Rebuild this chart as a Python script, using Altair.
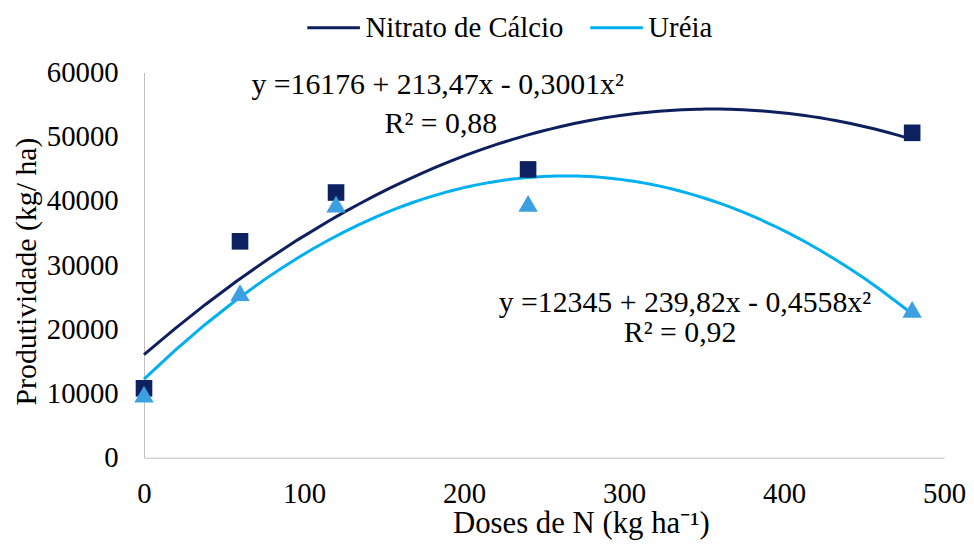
import altair as alt
import pandas as pd

# ---- data ----
doses = [0, 60, 120, 240, 480]
nitrato = [10800, 33700, 41300, 44900, 50600]
ureia = [9900, 25700, 39500, 39600, 23100]
series = ["Nitrato de Cálcio", "Uréia"]

x_ticks = [0, 100, 200, 300, 400, 500]
y_ticks = [0, 10000, 20000, 30000, 40000, 50000, 60000]

ann_text = ["y =16176 + 213,47x - 0,3001x²", "R² = 0,88",
            "y =12345 + 239,82x - 0,4558x²", "R² = 0,92"]
ann_x = [183.5, 185.5, 338, 335]
ann_y = [56600, 50560, 22730, 17940]

line_colors = ["#0E1F5E", "#00B0F0"]
point_colors = ["#0D2160", "#3C9FE2"]
point_shapes = ["square", "triangle-up"]
point_sizes = [280, 380]

FONT = "Liberation Serif"

df = pd.DataFrame({
    "dose": doses * 2,
    "prod": nitrato + ureia,
    "serie": [series[0]] * len(doses) + [series[1]] * len(doses),
})
ann = pd.DataFrame({"dose": ann_x, "prod": ann_y, "txt": ann_text})

x_enc = alt.X(
    "dose:Q",
    scale=alt.Scale(domain=[0, 500], nice=False, zero=False),
    axis=alt.Axis(
        values=x_ticks, grid=False, ticks=False, tickSize=0, labelFlush=False,
        domainColor="#BFBFBF", domainWidth=1,
        labelFont=FONT, labelFontSize=29, labelColor="black", labelPadding=22,
        title="Doses de N (kg ha⁻¹)", titleFont=FONT, titleFontSize=31,
        titleFontWeight="normal", titleColor="black",
        titleX=440, titleY=75, titleAlign="center", titleBaseline="alphabetic",
    ),
)
y_enc = alt.Y(
    "prod:Q",
    scale=alt.Scale(domain=[0, 60000], nice=False),
    axis=alt.Axis(
        values=y_ticks, format="d", grid=False, ticks=False, tickSize=0,
        domainColor="#BFBFBF", domainWidth=1,
        labelFont=FONT, labelFontSize=29, labelColor="black", labelPadding=26,
        title="Produtividade (kg/ ha)", titleFont=FONT, titleFontSize=30,
        titleFontWeight="normal", titleColor="black",
        titleAngle=270, titleX=-118, titleY=200, titleAlign="center",
        titleBaseline="middle",
    ),
)

base = alt.Chart(df)

lines = base.transform_regression(
    "dose", "prod", method="poly", order=2, groupby=["serie"], extent=[0, 480]
).mark_line(strokeWidth=3).encode(
    x=x_enc,
    y=y_enc,
    color=alt.Color(
        "serie:N",
        scale=alt.Scale(domain=series, range=line_colors),
        legend=alt.Legend(
            title=None, orient="none", direction="horizontal",
            legendX=163, legendY=-73, padding=0,
            symbolType="stroke", symbolStrokeWidth=3, symbolSize=2809,
            labelFont=FONT, labelFontSize=29, labelColor="black",
            labelOffset=4, labelLimit=400, columnPadding=20,
        ),
    ),
)

point_layers = []
for name, col, shp, sz in zip(series, point_colors, point_shapes, point_sizes):
    point_layers.append(
        base.transform_filter(alt.datum.serie == name)
        .mark_point(filled=True, opacity=1, strokeWidth=0, shape=shp, size=sz, fill=col)
        .encode(x=x_enc, y=y_enc)
    )

texts = alt.Chart(ann).mark_text(
    font=FONT, fontSize=30, color="black", align="center", baseline="alphabetic"
).encode(x=x_enc, y=y_enc, text="txt:N")

chart = alt.layer(lines, *point_layers, texts).properties(
    width=806, height=388,
    autosize=alt.AutoSizeParams(type="none"),
    padding={"left": 137, "top": 63, "right": 22, "bottom": 82},
    background="white",
).configure(font=FONT).configure_view(stroke=None).configure_axis(
    labelFont=FONT, titleFont=FONT
).configure_legend(labelFont=FONT)

chart.save("out.html", embed_options={"renderer": "svg", "actions": False})
